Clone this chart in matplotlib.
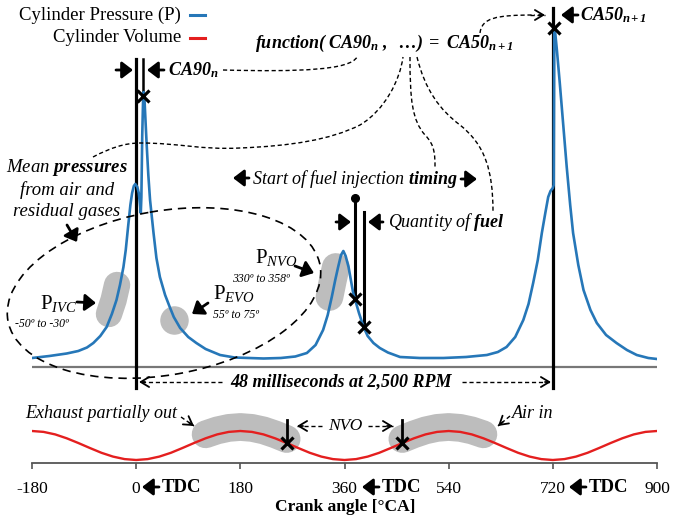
import matplotlib
matplotlib.use("Agg")
import matplotlib.pyplot as plt
import numpy as np
from matplotlib.patches import Ellipse, PathPatch
from matplotlib.path import Path

plt.rcParams["font.family"] = ["Liberation Serif", "DejaVu Serif"]
plt.rcParams["axes.unicode_minus"] = False
plt.rcParams["mathtext.fontset"] = "custom"
plt.rcParams["mathtext.rm"] = "Liberation Serif"
plt.rcParams["mathtext.it"] = "Liberation Serif:italic"
plt.rcParams["mathtext.bf"] = "Liberation Serif:bold"
plt.rcParams["mathtext.bfit"] = "Liberation Serif:italic:bold"

# --- Data: crank angle [deg], curve heights in arbitrary units above the gray baseline ---
crank_p = [-180, -150, -120, -100, -85, -74, -62, -51, -42, -34, -28, -22, -18, -14, -10,
           -7, -4, -1.5, 2, 4.5, 6.5, 8, 9, 10.5, 12, 13, 14.5, 18, 21, 24, 30, 35, 41,
           50, 58, 65, 76, 90, 104, 120, 145, 170, 195, 220, 250, 275, 295, 310, 323, 331,
           338, 344, 349, 354, 358, 362, 367, 371, 375, 378, 385, 393, 400, 410, 421, 435,
           456, 490, 531, 570, 606, 625, 640, 655, 669, 678, 686, 694, 701, 707, 712, 716,
           720, 721.5, 722.5, 724, 727, 732, 738, 744, 750, 755, 764, 773, 785, 796, 812,
           830, 848, 865, 885, 900]
pressure = [9, 11, 13.5, 16, 19.5, 24, 31, 40, 53, 67, 82, 100, 117, 140, 162,
            174, 181, 183, 180, 174, 163, 154, 170, 232, 268, 275, 266, 224, 192, 167, 134, 109, 90,
            72, 60, 50, 39, 30, 24, 18, 12, 9.5, 9, 8.5, 9, 10.5, 14, 22, 37, 52,
            70, 87, 100, 112, 116, 111, 100, 87, 74, 68, 54, 40, 31, 24, 19, 14.5,
            10, 9, 9, 10, 12, 15, 20, 30, 47, 63, 84, 107, 134, 154, 170, 176,
            179, 182, 339, 335, 317, 284, 242, 200, 162, 134, 102, 77, 57, 44, 32,
            24, 17, 12, 9, 8]

crank_v = list(range(-180, 901, 20))
volume = [-64.0, -64.9, -67.4, -71.3, -76.0, -81.0, -85.8, -89.6, -92.1,
          -93.0, -92.1, -89.6, -85.8, -81.0, -76.0, -71.3, -67.4, -64.9,
          -64.0, -64.9, -67.4, -71.3, -76.0, -81.0, -85.8, -89.6, -92.1,
          -93.0, -92.1, -89.6, -85.8, -81.0, -76.0, -71.3, -67.4, -64.9,
          -64.0, -64.9, -67.4, -71.3, -76.0, -81.0, -85.8, -89.6, -92.1,
          -93.0, -92.1, -89.6, -85.8, -81.0, -76.0, -71.3, -67.4, -64.9,
          -64.0]

ticks = [-180, 0, 180, 360, 540, 720, 900]
ca90 = 12.5
ca50 = 722.5
soi = 378
eoi = 393
evc = 260
ivo = 460
ivc_window = (-45, -28)
evo_angle = 65
nvo_window = (338, 350)
exhaust_window = (120, 260)
intake_window = (460, 600)

crank_p = np.array(crank_p, dtype=float)
pressure = np.array(pressure, dtype=float)
crank_v = np.array(crank_v, dtype=float)
volume = np.array(volume, dtype=float)

BLUE = "#2677b8"
RED = "#e41f1f"
GRAY = "#bdbdbd"

fig = plt.figure(figsize=(6.73, 5.17), dpi=100)
ax = fig.add_axes([32 / 673, 54 / 517, 625 / 673, 463 / 517])
ax.set_xlim(-180, 900)
ax.set_ylim(-96, 367)
ax.patch.set_visible(False)
for s in ["top", "left", "right"]:
    ax.spines[s].set_visible(False)
ax.spines["bottom"].set_color("#555555")
ax.spines["bottom"].set_linewidth(1.3)
ax.set_yticks([])
ax.set_xticks(ticks)
ax.tick_params(axis="x", direction="out", length=4.5, width=1.2, color="#555555",
               labelsize=12.5, pad=8.5)

# highlight blobs
m = (crank_p >= ivc_window[0]) & (crank_p <= ivc_window[1])
ax.plot(crank_p[m] - 5, pressure[m], color=GRAY, lw=19, solid_capstyle="round", zorder=1)
m = (crank_p >= nvo_window[0]) & (crank_p <= nvo_window[1])
ax.plot(crank_p[m] - 4, pressure[m], color=GRAY, lw=20, solid_capstyle="round", zorder=1)
ax.plot(evo_angle, np.interp(evo_angle, crank_p, pressure) - 3, "o", color=GRAY, ms=19.5,
        zorder=1)
for lo, hi in [exhaust_window, intake_window]:
    m = (crank_v >= lo) & (crank_v <= hi)
    ax.plot(crank_v[m], volume[m] + 4, color=GRAY, lw=20, solid_capstyle="round", zorder=1)

# baseline
ax.plot([-180, 900], [0, 0], color="#777777", lw=1.6, zorder=1.5)

# vertical markers
ax.plot([0, 0], [308, -21], color="k", lw=2.3, zorder=2, clip_on=False)
ax.plot([720, 720], [359, -21], color="k", lw=2.3, zorder=2, clip_on=False)
ax.plot([ca90, ca90], [308, np.interp(ca90, crank_p, pressure)], color="k", lw=1.8, zorder=2)
ax.plot([soi, soi], [169, np.interp(soi, crank_p, pressure)], color="k", lw=2.2, zorder=2)
ax.plot(soi, 169, "o", color="k", ms=5.5, zorder=4)
ax.plot([eoi, eoi], [155, np.interp(eoi, crank_p, pressure)], color="k", lw=2.2, zorder=2)

# curves
ax.plot(crank_p, pressure, color=BLUE, lw=1.9, zorder=3)
ax.plot(crank_v, volume, color=RED, lw=1.7, zorder=3)

# crosses
for a in [ca90, ca50, soi, eoi]:
    ax.plot(a, np.interp(a, crank_p, pressure), marker="x", color="k", ms=8, mew=2.3, zorder=5)
for a in [evc, ivo]:
    vy = np.interp(a, crank_v, volume)
    ax.plot([a, a], [-53, vy], color="k", lw=2, zorder=4)
    ax.plot(a, vy, marker="x", color="k", ms=8, mew=2.3, zorder=5)

# --- annotation layer in pixel coordinates ---
ov = fig.add_axes([0, 0, 1, 1])
ov.set_xlim(0, 673)
ov.set_ylim(517, 0)
ov.axis("off")


def fat_arrow(x0, y0, x1, y1):
    ov.annotate("", xy=(x1, y1), xytext=(x0, y0),
                arrowprops=dict(arrowstyle="-|>,head_length=0.55,head_width=0.42",
                                lw=2.0, color="k", shrinkA=0, shrinkB=0, mutation_scale=12))


def dashed_arrow(x0, y0, x1, y1):
    ov.plot([x0, x1], [y0, y1], color="k", lw=1.0, ls=(0, (3, 2)))
    d = np.array([x1 - x0, y1 - y0], dtype=float)
    d /= np.hypot(*d)
    ov.annotate("", xy=(x1, y1), xytext=(x1 - 6 * d[0], y1 - 6 * d[1]),
                arrowprops=dict(arrowstyle="->,head_length=0.5,head_width=0.3",
                                lw=1.3, color="k", shrinkA=0, shrinkB=0, mutation_scale=12))


def dashed_curve(verts):
    codes = [Path.MOVETO] + [Path.CURVE4] * (len(verts) - 1)
    ov.add_patch(PathPatch(Path(verts, codes), fill=False, lw=1.0, ls=(0, (3, 2)),
                           edgecolor="k"))


# legend
ov.text(181, 15, "Cylinder Pressure (P)", ha="right", va="center", fontsize=13.5)
ov.text(181, 38, "Cylinder Volume", ha="right", va="center", fontsize=13.5)
ov.plot([190, 205], [15, 15], color=BLUE, lw=2.2)
ov.plot([190, 205], [38, 38], color=RED, lw=2.2)

# CA90
fat_arrow(116, 70, 133, 70)
fat_arrow(164, 70, 147, 70)
ov.text(168, 70, r"$\mathbfit{CA90_n}$", ha="left", va="center", fontsize=13)

# function text
ov.text(384, 43, r"$\mathbfit{function(\ CA90_n\ ,\ \ \ldots)}\ \mathbfit{=}\ \mathbfit{CA50_{n+1}}$",
        ha="center", va="center", fontsize=13)

# CA50
fat_arrow(578, 15, 561, 15)
ov.text(580, 15, r"$\mathbfit{CA50_{n+1}}$", ha="left", va="center", fontsize=13)
dashed_curve([(480, 33), (482, 18), (495, 15), (535, 15)])
dashed_arrow(530, 15, 545, 15)

# dashed links
dashed_curve([(223, 70), (300, 72), (350, 70), (357, 57)])
dashed_curve([(93, 157), (110, 148), (125, 143), (140, 143),
              (180, 143), (200, 150), (240, 148),
              (290, 146), (330, 140), (360, 125),
              (385, 110), (400, 80), (403, 57)])
dashed_curve([(410, 57), (410, 100), (412, 120), (425, 135),
              (435, 145), (435, 155), (435, 167)])
dashed_curve([(417, 57), (425, 90), (440, 110), (460, 125),
              (485, 145), (493, 170), (493, 212)])

# mean pressures
ov.text(67, 167, r"$\mathit{Mean}\ \mathbfit{pressures}$", ha="center", va="center", fontsize=13.5)
ov.text(67, 190, "from air and", ha="center", va="center", fontsize=13.5, style="italic")
ov.text(67, 212, "residual gases", ha="center", va="center", fontsize=13.5, style="italic")
fat_arrow(67, 225, 77, 242)
ov.add_patch(Ellipse((164, 293), 317, 164, angle=-10, fill=False, lw=1.2,
                     ls=(0, (5, 3.5)), edgecolor="k"))

# pressure labels
ov.text(40, 303, r"$\mathrm{P}_{\mathit{IVC}}$", ha="left", va="center", fontsize=15)
ov.text(15, 324, "-50º to -30º", ha="left", va="center", fontsize=8.5, style="italic")
fat_arrow(77, 302, 96, 303)
ov.text(213, 293, r"$\mathrm{P}_{\mathit{EVO}}$", ha="left", va="center", fontsize=15)
ov.text(213, 315, "55º to 75º", ha="left", va="center", fontsize=8.5, style="italic")
fat_arrow(208, 303, 192, 314)
ov.text(255, 258, r"$\mathrm{P}_{\mathit{NVO}}$", ha="left", va="center", fontsize=15)
ov.text(232, 279, "330º to 358º", ha="left", va="center", fontsize=8.5, style="italic")
fat_arrow(295, 266, 314, 273)

# injection
fat_arrow(233 + 16, 178, 233, 178)
ov.text(252, 179, r"$\mathit{Start\ of\ fuel\ injection}\ \mathbfit{timing}$",
        ha="left", va="center", fontsize=13)
fat_arrow(461, 179, 477, 179)
fat_arrow(336, 222, 351, 222)
fat_arrow(383, 222, 368, 222)
ov.text(388, 222, r"$\mathit{Quantity\ of}\ \mathbfit{fuel}$", ha="left", va="center", fontsize=13)

# cycle duration
ov.text(341, 382, "48 milliseconds at 2,500 RPM", ha="center", va="center", fontsize=13,
        style="italic", weight="bold")
dashed_arrow(222, 382, 139, 382)
dashed_arrow(462, 382, 551, 382)

# valve events
ov.text(25, 413, "Exhaust partially out", ha="left", va="center", fontsize=13, style="italic")
dashed_arrow(181, 417, 194, 426)
ov.text(512, 413, "Air in", ha="left", va="center", fontsize=13, style="italic")
dashed_arrow(510, 416, 498, 426)
ov.text(345, 426, "NVO", ha="center", va="center", fontsize=12.5, style="italic")
dashed_arrow(322, 426, 297, 426)
dashed_arrow(368, 426, 393, 426)

# TDC marks and axis label
for x0 in [142, 362, 569]:
    fat_arrow(x0 + 17, 487, x0, 487)
for x0 in [162, 382, 589]:
    ov.text(x0, 487, "TDC", ha="left", va="center", fontsize=13.5, weight="bold")
ov.text(345, 507, "Crank angle [°CA]", ha="center", va="center", fontsize=12.5, weight="bold")

fig.savefig("out.png", dpi=100)
plt.close(fig)
